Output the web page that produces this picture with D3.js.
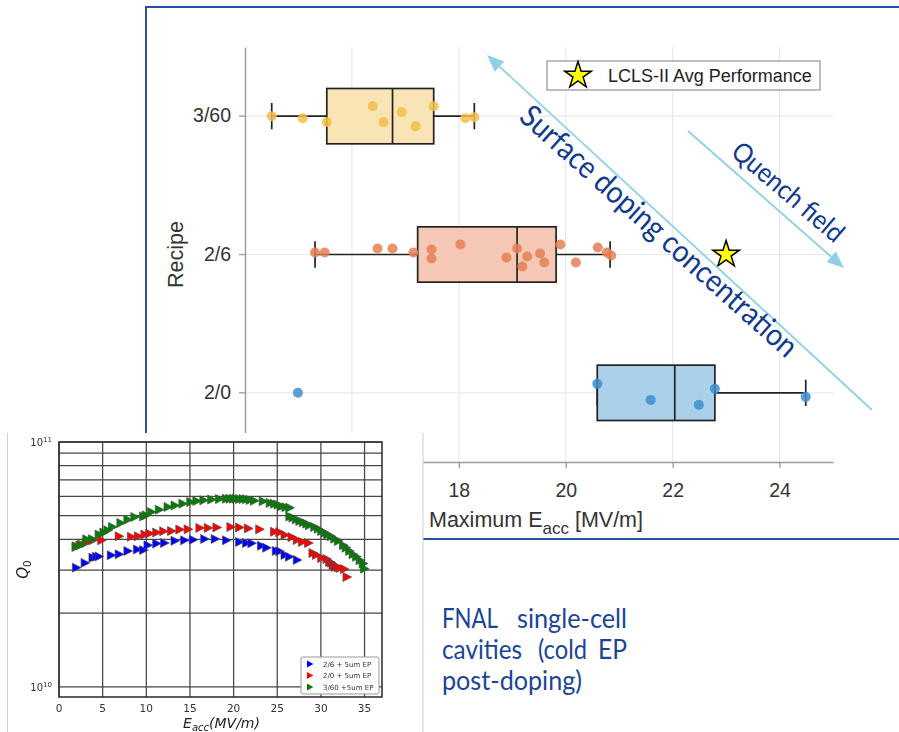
<!DOCTYPE html>
<html>
<head>
<meta charset="utf-8">
<script src="https://cdn.jsdelivr.net/npm/d3@7"></script>
<style>
  html, body { margin: 0; padding: 0; background: #fff; }
  svg { display: block; }
</style>
</head>
<body>
<svg id="fig" width="899" height="732"></svg>
<script>
// ---------- Box plot: maximum Eacc by doping recipe ----------
const recipes   = ["3/60", "2/6", "2/0"];
const boxQ1     = [15.53, 17.23, 20.59];
const boxMedian = [16.76, 19.09, 22.04];
const boxQ3     = [17.53, 19.82, 22.79];
const whiskerLo = [14.50, 15.31, 20.59];
const whiskerHi = [18.29, 20.83, 24.49];

// individual cavities (MV/m) and strip-plot jitter (fraction of band)
const cav360 = [14.50, 15.08, 15.53, 16.39, 16.59, 16.93, 17.19, 17.53, 18.12, 18.29];
const jit360 = [0.0, 0.015, 0.043, -0.072, 0.043, -0.029, 0.072, -0.072, 0.015, 0.007];
const cav26  = [15.31, 15.49, 16.48, 16.76, 17.15, 17.49, 17.49, 18.03, 18.89, 19.09,
                19.19, 19.28, 19.52, 19.60, 19.90, 20.19, 20.60, 20.77, 20.85];
const jit26  = [-0.015, -0.015, -0.043, -0.043, -0.015, -0.036, 0.029, -0.072, 0.022, -0.043,
                0.087, 0.015, -0.007, 0.058, -0.072, 0.058, -0.051, -0.015, 0.007];
const cav20  = [14.99, 20.59, 21.59, 22.49, 22.79, 24.49];
const jit20  = [0.0, -0.065, 0.051, 0.087, -0.029, 0.029];

const lclsEacc = 23.0, lclsRecipe = "2/6";
const xTicks = [16, 18, 20, 22, 24];

// ---------- Inset: Q0 vs Eacc ----------
const e26 = [2.0, 3.0, 3.9, 4.3, 4.6, 6.0, 6.9, 7.9, 9.0, 9.7, 10.2, 11.2, 12.1, 13.3, 14.4,
             15.4, 16.7, 17.9, 19.2, 20.7, 21.5, 22.1, 23.2, 23.8, 24.9, 25.3, 25.9, 26.4, 27.3];
const q26 = [3.07, 3.21, 3.37, 3.40, 3.41, 3.45, 3.48, 3.59, 3.64, 3.62, 3.79, 3.85, 3.87, 3.95, 3.97,
             3.99, 4.02, 4.02, 3.97, 3.91, 3.87, 3.86, 3.77, 3.70, 3.59, 3.58, 3.46, 3.40, 3.30];
const e20 = [1.95, 2.4, 3.1, 3.9, 4.9, 6.9, 8.3, 9.1, 9.85, 10.4, 11.2, 12.0, 12.9, 13.85, 14.8,
             16.15, 17.1, 18.1, 19.7, 20.7, 21.7, 23.0, 24.7, 25.3, 25.9, 26.7, 27.3, 27.9, 28.6, 29.1,
             29.5, 30.1, 30.7, 31.0, 31.2, 31.4, 31.6, 31.7, 32.0, 32.2, 32.7, 33.0];
const q20 = [3.73, 3.78, 3.87, 3.97, 3.97, 4.12, 4.10, 4.12, 4.19, 4.23, 4.27, 4.32, 4.33, 4.39, 4.40,
             4.46, 4.46, 4.48, 4.50, 4.48, 4.44, 4.40, 4.30, 4.28, 4.17, 4.09, 3.98, 3.91, 3.87, 3.52,
             3.46, 3.36, 3.33, 3.24, 3.22, 3.15, 3.12, 3.09, 3.08, 3.06, 3.03, 2.81];
const e360 = [2.0, 2.6, 3.2, 3.85, 4.6, 5.15, 5.6, 6.15, 7.1, 7.9, 8.7, 9.7, 10.0, 10.6, 11.5,
              12.5, 13.3, 14.2, 15.1, 15.8, 16.6, 17.5, 18.4, 19.2, 19.6, 20.0, 20.3, 20.7, 21.1, 21.5,
              21.9, 22.4, 23.4, 24.2, 24.7, 25.1, 25.5, 26.0, 26.45, 26.45, 26.8, 27.2, 27.6, 28.0, 28.4,
              28.7, 29.3, 29.7, 30.1, 30.5, 30.8, 31.2, 31.6, 32.0, 32.6, 32.9, 33.3, 33.7, 34.1, 34.5,
              34.85, 35.0];
const q360 = [3.75, 3.82, 4.01, 4.01, 4.19, 4.27, 4.36, 4.50, 4.67, 4.82, 4.94, 4.97, 5.02, 5.18, 5.29,
              5.43, 5.51, 5.60, 5.69, 5.74, 5.78, 5.82, 5.85, 5.87, 5.87, 5.87, 5.87, 5.85, 5.85, 5.84,
              5.80, 5.76, 5.73, 5.64, 5.60, 5.55, 5.46, 5.42, 5.39, 4.97, 4.91, 4.83, 4.76, 4.70, 4.64,
              4.57, 4.50, 4.42, 4.33, 4.26, 4.19, 4.12, 4.03, 3.94, 3.79, 3.70, 3.59, 3.48, 3.40, 3.29,
              3.19, 3.04];
const insetSeries = ["2/6 + 5um EP", "2/0 + 5um EP", "3/60 +5um EP"];
const insetXTicks = [0, 5, 10, 15, 20, 25, 30, 35];

// ====================================================================
const svg = d3.select("#fig");
const SANS = "'Liberation Sans', Arial, sans-serif";
const DARKBLUE = "#0f3a8e";

const defs = svg.append("defs");
defs.append("filter").attr("id", "soft")
  .append("feGaussianBlur").attr("stdDeviation", 0.45);

// slide frame around the box plot
svg.append("rect")
  .attr("x", 146).attr("y", 7).attr("width", 800).attr("height", 532)
  .attr("fill", "none").attr("stroke", "#2452a4").attr("stroke-width", 2);

// ---- main chart ----
const M = { left: 245, right: 833, top: 47, bottom: 462 };
const x = d3.scaleLinear().domain([14, 25]).range([M.left, M.right]);
const y = d3.scaleBand().domain(recipes).range([M.top, M.bottom]);
const yc = r => y(r) + y.bandwidth() / 2;

const main = svg.append("g");

// grid
main.append("g").selectAll("line").data(xTicks).join("line")
  .attr("x1", d => x(d)).attr("x2", d => x(d))
  .attr("y1", M.top).attr("y2", M.bottom)
  .attr("stroke", "#e8e8e8").attr("stroke-width", 1.2);
main.append("g").selectAll("line").data(recipes).join("line")
  .attr("x1", M.left).attr("x2", M.right)
  .attr("y1", d => yc(d)).attr("y2", d => yc(d))
  .attr("stroke", "#e8e8e8").attr("stroke-width", 1.2);

// axes
const gx = main.append("g").attr("transform", `translate(0,${M.bottom})`)
  .call(d3.axisBottom(x).tickValues(xTicks).tickSize(6).tickPadding(15).tickSizeOuter(0)
        .tickFormat(d3.format("d")));
const gy = main.append("g").attr("transform", `translate(${M.left},0)`)
  .call(d3.axisLeft(y).tickSize(6).tickPadding(8).tickSizeOuter(0));
[gx, gy].forEach(g => {
  g.attr("font-family", SANS).attr("font-size", 19.5);
  g.select(".domain").attr("stroke", "#9a9a9a").attr("stroke-width", 1.4);
  g.selectAll(".tick line").attr("stroke", "#9a9a9a").attr("stroke-width", 1.3);
  g.selectAll(".tick text").attr("fill", "#333");
});

// axis titles
main.append("text")
  .attr("transform", `translate(183,${yc("2/6")}) rotate(-90)`)
  .attr("text-anchor", "middle")
  .attr("font-family", SANS).attr("font-size", 21.5).attr("fill", "#333")
  .text("Recipe");
const xt = main.append("text")
  .attr("x", 429).attr("y", 527)
  .attr("font-family", SANS).attr("font-size", 21.5).attr("fill", "#333");
xt.append("tspan").text("Maximum E");
xt.append("tspan").attr("font-size", 17).attr("dy", 7).text("acc");
xt.append("tspan").attr("dy", -7).text(" [MV/m]");

// boxes
const boxFill = ["#f9e4b6", "#f4c8b4", "#abd0e9"];
const dotFill = ["#f2bf48", "#e57f55", "#3d8fd0"];
const boxes = recipes.map((r, i) => ({
  r, q1: boxQ1[i], med: boxMedian[i], q3: boxQ3[i], lo: whiskerLo[i], hi: whiskerHi[i], i
}));
const halfBox = y.bandwidth() * 0.2;
const halfCap = y.bandwidth() * 0.095;
const bg = main.append("g").attr("stroke", "#222").attr("stroke-width", 1.7);
boxes.forEach(b => {
  const cy = yc(b.r);
  bg.append("line").attr("x1", x(b.lo)).attr("x2", x(b.q1)).attr("y1", cy).attr("y2", cy);
  bg.append("line").attr("x1", x(b.q3)).attr("x2", x(b.hi)).attr("y1", cy).attr("y2", cy);
  [b.lo, b.hi].forEach(v => bg.append("line")
    .attr("x1", x(v)).attr("x2", x(v)).attr("y1", cy - halfCap).attr("y2", cy + halfCap));
  bg.append("rect")
    .attr("x", x(b.q1)).attr("y", cy - halfBox)
    .attr("width", x(b.q3) - x(b.q1)).attr("height", 2 * halfBox)
    .attr("fill", boxFill[b.i]);
  bg.append("line").attr("x1", x(b.med)).attr("x2", x(b.med))
    .attr("y1", cy - halfBox).attr("y2", cy + halfBox);
});

// strip points
const strips = [[cav360, jit360], [cav26, jit26], [cav20, jit20]];
strips.forEach(([vals, jit], i) => {
  main.append("g").selectAll("circle").data(vals).join("circle")
    .attr("cx", d => x(d))
    .attr("cy", (d, k) => yc(recipes[i]) + jit[k] * y.bandwidth())
    .attr("r", 5)
    .attr("fill", dotFill[i]).attr("fill-opacity", 0.85);
});

// LCLS-II reference star
const star = d3.symbol().type(d3.symbolStar).size(220);
main.append("path").attr("d", star())
  .attr("transform", `translate(${x(lclsEacc)},${yc(lclsRecipe)})`)
  .attr("fill", "#ffff00").attr("stroke", "#000").attr("stroke-width", 1.5);

// legend
const lg = main.append("g");
lg.append("rect").attr("x", 547).attr("y", 61).attr("width", 273).attr("height", 29)
  .attr("fill", "#fff").attr("stroke", "#9a9a9a").attr("stroke-width", 1.3);
lg.append("path").attr("d", star()).attr("transform", "translate(578,75.5)")
  .attr("fill", "#ffff00").attr("stroke", "#000").attr("stroke-width", 1.5);
lg.append("text").attr("x", 608).attr("y", 82)
  .attr("font-family", SANS).attr("font-size", 18).attr("fill", "#222")
  .text("LCLS-II Avg Performance");

// annotation arrows
function arrow(x1, y1, x2, y2) {
  const a = Math.atan2(y2 - y1, x2 - x1), L = 17, W = 7;
  const bx = x2 - L * Math.cos(a), by = y2 - L * Math.sin(a);
  svg.append("line").attr("x1", x1).attr("y1", y1).attr("x2", bx).attr("y2", by)
    .attr("stroke", "#8fd0e6").attr("stroke-width", 1.8);
  svg.append("path")
    .attr("d", `M${x2},${y2} L${bx - W * Math.sin(a)},${by + W * Math.cos(a)} ` +
               `L${bx + W * Math.sin(a)},${by - W * Math.cos(a)} Z`)
    .attr("fill", "#8fd0e6");
}
arrow(872, 410, 487, 55);
arrow(688, 131, 844, 268);

svg.append("text")
  .attr("transform", "translate(652,239) rotate(41.8)")
  .attr("text-anchor", "middle")
  .attr("font-family", "Lato, 'Open Sans', sans-serif").attr("font-size", 31)
  .attr("fill", DARKBLUE)
  .attr("textLength", 360).attr("lengthAdjust", "spacingAndGlyphs")
  .text("Surface doping concentration");
svg.append("text")
  .attr("transform", "translate(782,199) rotate(40.5)")
  .attr("text-anchor", "middle")
  .attr("font-family", "Lato, 'Open Sans', sans-serif").attr("font-size", 27)
  .attr("fill", DARKBLUE)
  .attr("textLength", 138).attr("lengthAdjust", "spacingAndGlyphs")
  .text("Quench field");

// ---- inset: Q0 vs Eacc ----
const inset = svg.append("g");
inset.append("rect").attr("x", 7).attr("y", 433).attr("width", 416).attr("height", 300)
  .attr("fill", "#fff");
inset.append("line").attr("x1", 7.5).attr("x2", 7.5).attr("y1", 433).attr("y2", 732)
  .attr("stroke", "#d0d0d0");
inset.append("line").attr("x1", 423).attr("x2", 423).attr("y1", 433).attr("y2", 732)
  .attr("stroke", "#d0d0d0");

const ip = inset.append("g").attr("filter", "url(#soft)");
const IM = { left: 59, right: 382, top: 442, bottom: 697 };
const xi = d3.scaleLinear().domain([0, 37]).range([IM.left, IM.right]);
const yi = d3.scaleLog().domain([9.1e9, 1e11]).range([IM.bottom, IM.top]);
const DV = "'DejaVu Sans', sans-serif";

const qGrid = d3.range(1, 11).map(k => k * 1e10);
ip.append("g").selectAll("line").data(qGrid).join("line")
  .attr("x1", IM.left).attr("x2", IM.right)
  .attr("y1", d => yi(d)).attr("y2", d => yi(d))
  .attr("stroke", "#454545").attr("stroke-width", 1.25);
ip.append("g").selectAll("line").data(insetXTicks).join("line")
  .attr("x1", d => xi(d)).attr("x2", d => xi(d))
  .attr("y1", IM.top).attr("y2", IM.bottom)
  .attr("stroke", "#454545").attr("stroke-width", 1.25);
ip.append("rect").attr("x", IM.left).attr("y", IM.top)
  .attr("width", IM.right - IM.left).attr("height", IM.bottom - IM.top)
  .attr("fill", "none").attr("stroke", "#333").attr("stroke-width", 1.6);

// tick labels
ip.append("g").selectAll("text").data(insetXTicks).join("text")
  .attr("x", d => xi(d)).attr("y", 712)
  .attr("text-anchor", "middle")
  .attr("font-family", DV).attr("font-size", 10.5).attr("fill", "#333")
  .text(d => d);
[1e10, 1e11].forEach(v => {
  const t = ip.append("text").attr("x", 52).attr("y", yi(v) + 4)
    .attr("text-anchor", "end").attr("font-family", DV).attr("font-size", 10).attr("fill", "#333");
  t.append("tspan").text("10");
  t.append("tspan").attr("font-size", 7).attr("dy", -4).text(Math.round(Math.log10(v)));
});

// axis titles
const qt = ip.append("text")
  .attr("transform", `translate(28,${(IM.top + IM.bottom) / 2}) rotate(-90)`)
  .attr("text-anchor", "middle")
  .attr("font-family", DV).attr("font-size", 15).attr("fill", "#222");
qt.append("tspan").attr("font-style", "italic").text("Q");
qt.append("tspan").attr("font-size", 10.5).attr("dy", 3).text("0");
const et = ip.append("text")
  .attr("x", (IM.left + IM.right) / 2 + 1).attr("y", 728)
  .attr("text-anchor", "middle")
  .attr("font-family", DV).attr("font-size", 14).attr("font-style", "italic").attr("fill", "#222");
et.append("tspan").text("E");
et.append("tspan").attr("font-size", 10).attr("dy", 3).text("acc");
et.append("tspan").attr("dy", -3).text("(MV/m)");

// triangle markers pointing right
const tri = "M-4.1,-4.5 L4.6,0 L-4.1,4.5 Z";
const insetColors = ["#0000ff", "#ff0000", "#008000"];
const insetData = [[e26, q26], [e20, q20], [e360, q360]];
insetData.forEach(([es, qs], i) => {
  ip.append("g").selectAll("path").data(es).join("path")
    .attr("d", tri)
    .attr("transform", (d, k) => `translate(${xi(d)},${yi(qs[k] * 1e10)})`)
    .attr("fill", insetColors[i]).attr("stroke", "#4d4d4d").attr("stroke-width", 0.7);
});

// inset legend
const il = ip.append("g");
il.append("rect").attr("x", 301).attr("y", 657).attr("width", 78).attr("height", 37).attr("rx", 2)
  .attr("fill", "#fff").attr("stroke", "#999").attr("stroke-width", 1);
insetSeries.forEach((s, i) => {
  const ly = 664 + i * 11.5;
  il.append("path").attr("d", "M-3,-3.4 L3.4,0 L-3,3.4 Z")
    .attr("transform", `translate(310,${ly})`).attr("fill", insetColors[i]);
  il.append("text").attr("x", 323).attr("y", ly + 2.5)
    .attr("font-family", DV).attr("font-size", 7).attr("fill", "#333").text(s);
});

// ---- caption ----
const cap = svg.append("g")
  .attr("font-family", "Lato, 'Open Sans', sans-serif").attr("font-size", 26).attr("fill", "#1b4595");
const words = [
  ["FNAL", 442, 628, "start", 56], ["single-cell", 627, 628, "end", 110],
  ["cavities", 442, 659, "start", 80], ["(cold", 538, 659, "start", 49], ["EP", 627, 659, "end", 29],
  ["post-doping)", 442, 690, "start", 140]
];
words.forEach(([w, wx, wy, anchor, len]) => {
  cap.append("text").attr("x", wx).attr("y", wy).attr("text-anchor", anchor)
    .attr("textLength", len).attr("lengthAdjust", "spacingAndGlyphs").text(w);
});
</script>
</body>
</html>
